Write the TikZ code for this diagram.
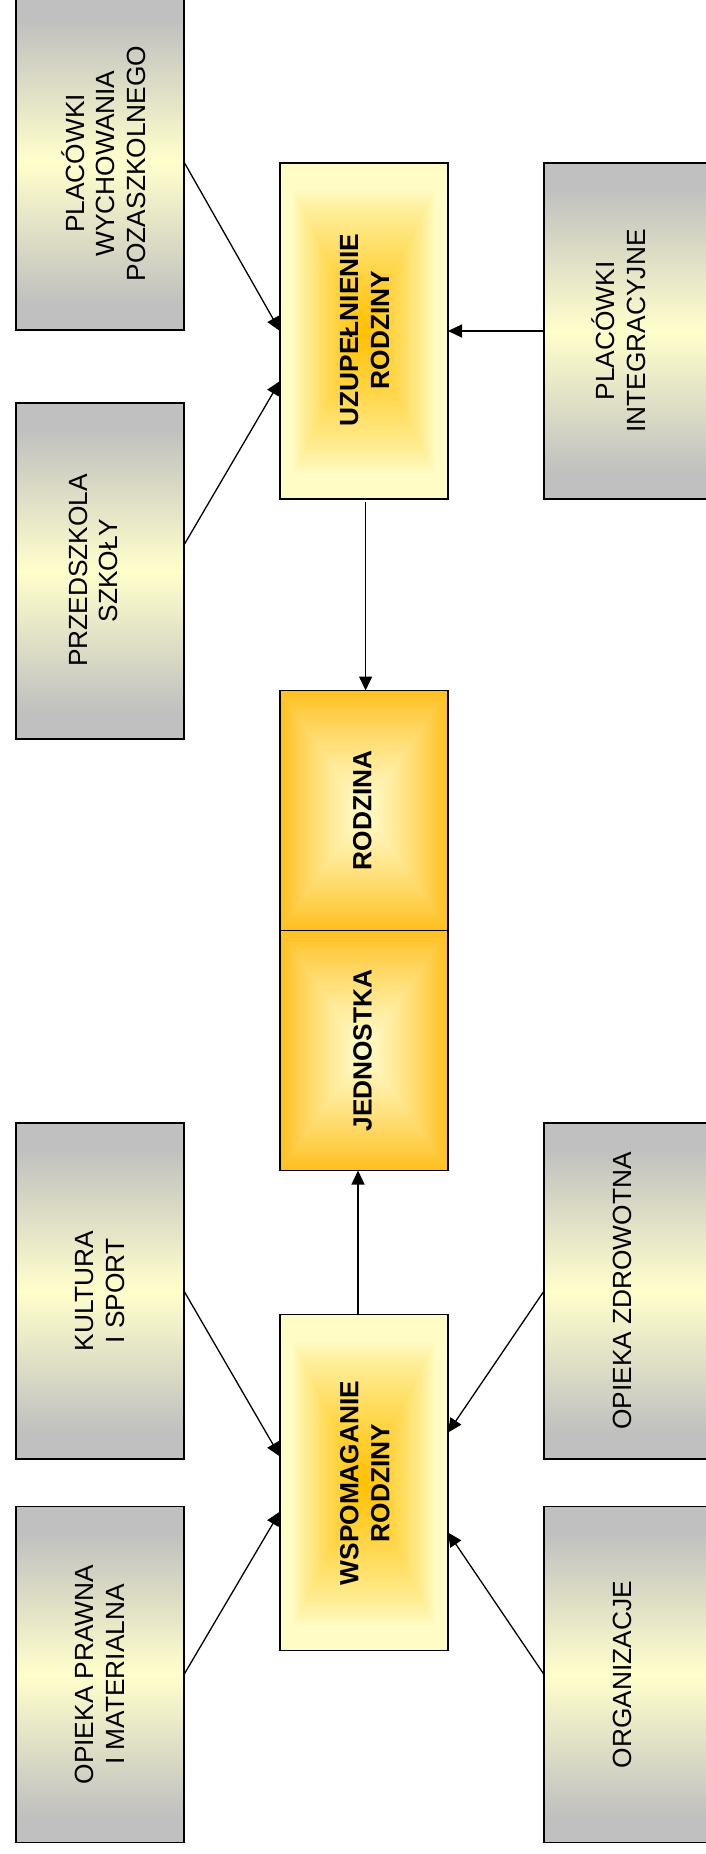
\documentclass[tikz,border=0pt]{standalone}
\usepackage{fontspec}
\setmainfont{Liberation Sans}
\usetikzlibrary{arrows.meta,calc,backgrounds}
\definecolor{cGray}{HTML}{C0C0C0}
\definecolor{cPale}{HTML}{FFFCC6}
\definecolor{cPaleG}{HTML}{FFFFCC}
\definecolor{cOr}{HTML}{FFC000}
\definecolor{cOrE}{HTML}{FFBF1F}
\definecolor{cPaleC}{HTML}{FFFBC8}
\pgfdeclareverticalshading{grayband}{100bp}{color(0bp)=(cGray); color(25bp)=(cGray); color(29bp)=(cGray); color(50bp)=(cPaleG); color(71bp)=(cGray); color(75bp)=(cGray); color(100bp)=(cGray)}
\begin{document}
\begin{tikzpicture}[x=1pt,y=-1pt,
  graybox/.style={draw=black,line width=1.6pt,shade,shading=grayband,minimum width=168pt,minimum height=336pt,inner sep=0pt,outer sep=0pt},
  hubbox/.style={draw=black,line width=1.6pt,minimum width=168pt,minimum height=336pt,inner sep=0pt,outer sep=0pt},
  corebox/.style={draw=black,line width=1.6pt,minimum width=168pt,minimum height=240pt,inner sep=0pt,outer sep=0pt},
  txt/.style={rotate=90,align=center,inner sep=0pt,font=\fontsize{26.3}{30.6}\selectfont},
  btxt/.style={rotate=90,align=center,inner sep=0pt,font=\fontsize{26.3}{31}\selectfont\bfseries},
  conn/.style={line width=1.3pt,-{Triangle[length=14pt,width=13pt]}}]
\useasboundingbox (0,0) rectangle (706,1854);

% boxes
\node[graybox] (b1) at (100,162) {};
\node[graybox] (b2) at (100,571) {};
\node[graybox] (k) at (100,1291) {};
\node[graybox] (op) at (100,1674.5) {};
\node[graybox] (pi) at (628,331) {};
\node[graybox] (oz) at (628,1291) {};
\node[graybox] (org) at (628,1674.5) {};
\node[hubbox] (u) at (364,331) {};
\node[hubbox] (w) at (364,1482.5) {};
\node[corebox] (r) at (364,810.5) {};
\node[corebox] (j) at (364,1050.5) {};

% gradients (rectangular path gradients)
\begin{pgfonlayer}{background}
\foreach \n in {u,w}{
  \foreach \i in {0,1,...,83}{
    \pgfmathsetmacro\s{1-\i/84}
    \pgfmathsetmacro\hw{84*\s}
    \pgfmathsetmacro\hh{168*\s}
    \pgfmathsetmacro\f{100*(max(0.0001,1-\s/0.85))^0.8}
    \fill[cOr!\f!cPale] ($(\n.center)+(-\hw pt,-\hh pt)$) rectangle ($(\n.center)+(\hw pt,\hh pt)$);
  }
}
\foreach \n in {r,j}{
  \foreach \i in {0,1,...,83}{
    \pgfmathsetmacro\s{1-\i/84}
    \pgfmathsetmacro\hw{84*\s}
    \pgfmathsetmacro\hh{120*\s}
    \pgfmathsetmacro\f{100*(\s)^1.3}
    \fill[cOrE!\f!cPaleC] ($(\n.center)+(-\hw pt,-\hh pt)$) rectangle ($(\n.center)+(\hw pt,\hh pt)$);
  }
}
\end{pgfonlayer}

% texts
\node[txt] (tb1) at (103.5,163.5) {PLACÓWKI\\WYCHOWANIA\\POZASZKOLNEGO};
\node[txt] (tb2) at (93.4,570.5) {PRZEDSZKOLA\\SZKOŁY};
\node[txt] (tk) at (100,1291) {KULTURA\\I SPORT};
\node[txt] (top) at (100,1674.5) {OPIEKA PRAWNA\\I MATERIALNA};
\node[txt] (tpi) at (619,331) {PLACÓWKI\\INTEGRACYJNE};
\node[txt] (toz) at (622,1291) {OPIEKA ZDROWOTNA};
\node[txt] (torg) at (622,1674.5) {ORGANIZACJE};
\node[btxt] (tu) at (364.7,330) {UZUPEŁNIENIE\\RODZINY};
\node[btxt] (tw) at (364.7,1483) {WSPOMAGANIE\\RODZINY};
\node[btxt] (tr) at (362.2,810.5) {RODZINA};
\node[btxt] (tj) at (362.5,1050.5) {JEDNOSTKA};

% connectors
\draw[conn] (b1.east) -- (u.west);
\draw[conn] ($(b2.east)+(0,-26)$) -- ($(u.west)+(0,50)$);
\draw[conn] (pi.west) -- (u.east);
\draw[conn] ($(u.south)+(1.6,3)$) -- ($(r.north)+(1.6,0)$);
\draw[conn] ($(w.north)+(-6,0)$) -- ($(j.south)+(-6,0)$);
\draw[conn] (k.east) -- ($(w.west)+(0,-26)$);
\draw[conn] (op.east) -- ($(w.west)+(0,29)$);
\draw[conn] (oz.west) -- ($(w.east)+(0,-50)$);
\draw[conn] (org.west) -- ($(w.east)+(0,50)$);
\end{tikzpicture}
\end{document}
